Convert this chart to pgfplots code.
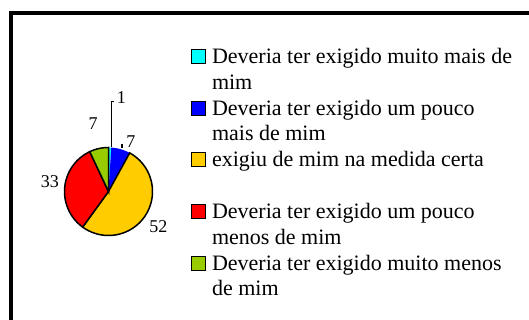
\documentclass[border=0pt]{standalone}
\usepackage{pgfplots}
\pgfplotsset{compat=1.18}
\usepackage{fontspec}
\setmainfont{Liberation Serif}

\definecolor{pcyan}{RGB}{0,255,255}
\definecolor{pblue}{RGB}{0,0,255}
\definecolor{pyellow}{RGB}{255,204,0}
\definecolor{pred}{RGB}{255,0,0}
\definecolor{pgreen}{RGB}{153,204,0}

\begin{document}
\begin{tikzpicture}[x=1pt,y=1pt]
\useasboundingbox (0,0) rectangle (529,320);
\begin{scope}
  \clip (0,0) rectangle (529,320);
  \draw[line width=4pt] (11,-10) -- (11,306.7) -- (545,306.7);
\end{scope}

\begin{axis}[
    at={(108.5pt,128.5pt)}, anchor=center,
    width=88pt, height=88pt, scale only axis,
    xmin=-1, xmax=1, ymin=-1, ymax=1,
    hide axis, clip=false, samples=60,
    legend cell align=left,
    legend style={at={(1.4375,2.161)}, anchor=north west,
        draw=none, fill=none, inner sep=0pt, outer sep=0pt,
        row sep=0pt, column sep=6pt,
        font=\fontsize{22}{25.85}\selectfont,
        cells={anchor=base west},
        nodes={inner sep=0pt, text height=18pt, text depth=7.85pt}},
    legend image code/.code={\draw[#1,line width=1pt] (0pt,0pt) rectangle (14pt,14pt);}
]
% shares in %: 1, 7, 52, 33, 7 -- clockwise from 12 o'clock, 3.6 deg per %
\addplot[fill=pcyan, draw=none, domain=86.4:90]
    ({cos(x)},{sin(x)}) -- (axis cs:0,0) -- cycle;
\addlegendentry{Deveria ter exigido muito mais de}
\addlegendimage{empty legend}\addlegendentry{mim}

\addplot[fill=pblue, draw=none, domain=61.2:86.4]
    ({cos(x)},{sin(x)}) -- (axis cs:0,0) -- cycle;
\addlegendentry{Deveria ter exigido um pouco}
\addlegendimage{empty legend}\addlegendentry{mais de mim}

\addplot[fill=pyellow, draw=black, line width=1.5pt, domain=-126:61.2]
    ({cos(x)},{sin(x)}) -- (axis cs:0,0) -- cycle;
\addlegendentry{exigiu de mim na medida certa}
\addlegendimage{empty legend}\addlegendentry{}

\addplot[fill=pred, draw=black, line width=1.5pt, domain=-244.8:-126]
    ({cos(x)},{sin(x)}) -- (axis cs:0,0) -- cycle;
\addlegendentry{Deveria ter exigido um pouco}
\addlegendimage{empty legend}\addlegendentry{menos de mim}

\addplot[fill=pgreen, draw=black, line width=1.5pt, domain=-270:-244.8]
    ({cos(x)},{sin(x)}) -- (axis cs:0,0) -- cycle;
\addlegendentry{Deveria ter exigido muito menos}
\addlegendimage{empty legend}\addlegendentry{de mim}

% data labels and leader lines
\draw[line width=1.2pt] (axis cs:0.114,2.041) -- (axis cs:0.068,2.041) -- (axis cs:0.068,1.0);
\draw[line width=1.2pt] (axis cs:0.307,0.99) -- (axis cs:0.307,1.068) -- (axis cs:0.34,1.068);
\begin{scope}[every node/.style={font=\fontsize{18}{20}\selectfont}]
\node at (axis cs:0.295,2.125) {1};
\node at (axis cs:0.511,1.14) {7};
\node at (axis cs:-0.352,1.534) {7};
\node at (axis cs:-1.33,0.216) {33};
\node at (axis cs:1.133,-0.806) {52};
\end{scope}
\end{axis}
\end{tikzpicture}
\end{document}
